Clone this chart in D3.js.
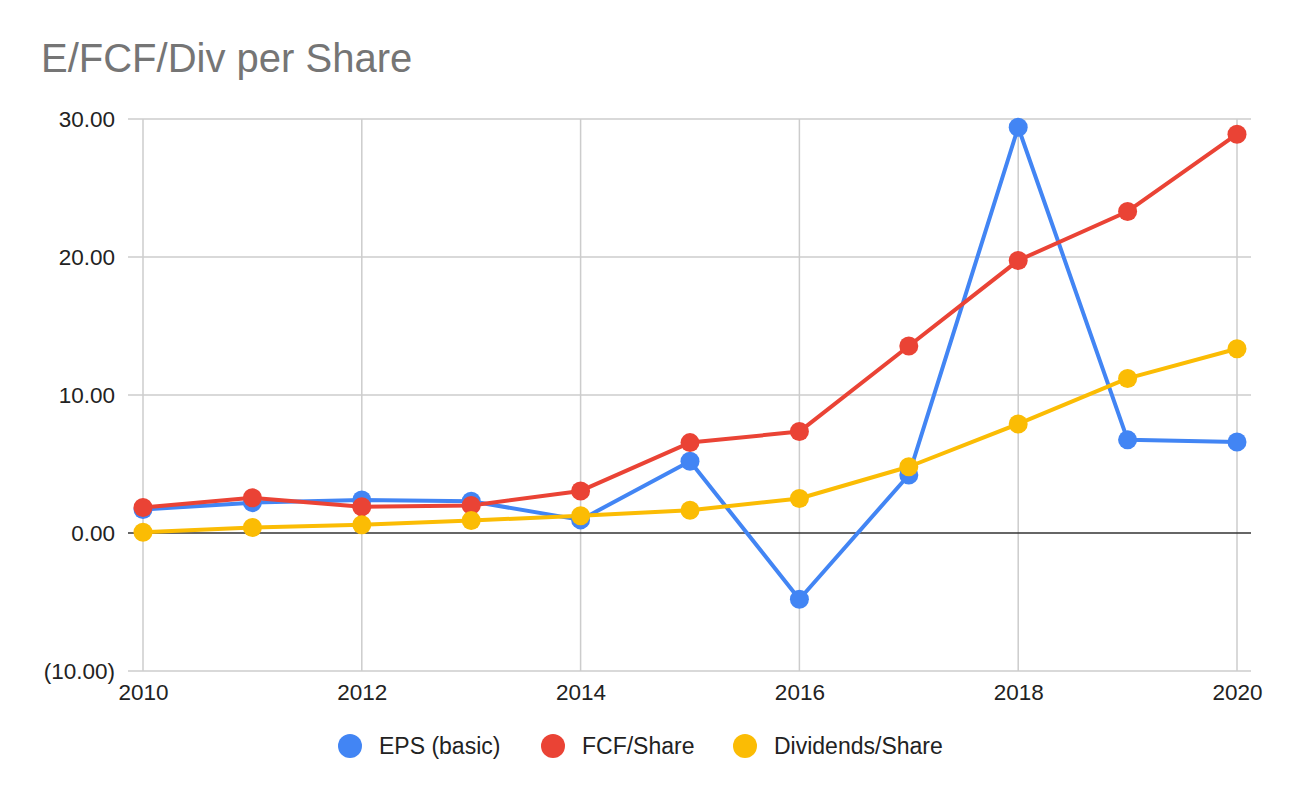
<!DOCTYPE html>
<html>
<head>
<meta charset="utf-8">
<script src="https://cdn.jsdelivr.net/npm/d3@7"></script>
<style>
  body { margin: 0; background: #fff; }
  text { font-family: Arial, "Liberation Sans", sans-serif; }
</style>
</head>
<body>
<div class="chart"></div>
<script>
// data
var years = [2010, 2011, 2012, 2013, 2014, 2015, 2016, 2017, 2018, 2019, 2020];
var eps = [1.7, 2.2, 2.4, 2.3, 0.95, 5.2, -4.8, 4.2, 29.4, 6.75, 6.6];
var fcf = [1.85, 2.55, 1.9, 2.0, 3.05, 6.55, 7.35, 13.55, 19.75, 23.3, 28.9];
var divs = [0.05, 0.4, 0.6, 0.9, 1.25, 1.65, 2.5, 4.8, 7.9, 11.2, 13.35];
var seriesNames = ["EPS (basic)", "FCF/Share", "Dividends/Share"];
var yTicks = [-10, 0, 10, 20, 30];
var xTicks = [2010, 2012, 2014, 2016, 2018, 2020];

var colors = ["#4285F4", "#EA4335", "#FBBC04"];
var seriesData = [eps, fcf, divs];

var svgWidth = 1290;
var svgHeight = 798;

var svg = d3.select(".chart").append("svg")
    .attr("width", svgWidth)
    .attr("height", svgHeight);

var xScale = d3.scaleLinear()
    .domain([2010, 2020])
    .range([143, 1237]);

var yScale = d3.scaleLinear()
    .domain([-10, 30])
    .range([671, 119]);

function fmt(v) {
    var s = d3.format(",.2f")(Math.abs(v));
    return v < 0 ? "(" + s + ")" : s;
}

// title
svg.append("text")
    .attr("x", 41)
    .attr("y", 72)
    .attr("fill", "#757575")
    .style("font-size", "40px")
    .text("E/FCF/Div per Share");

// horizontal gridlines
svg.append("g").selectAll("line")
    .data(yTicks.filter(d => d != 0))
    .enter().append("line")
    .attr("x1", 128).attr("x2", 1251)
    .attr("y1", d => yScale(d)).attr("y2", d => yScale(d))
    .attr("stroke", "#cccccc")
    .attr("stroke-width", 1.5);

// vertical gridlines
svg.append("g").selectAll("line")
    .data(xTicks)
    .enter().append("line")
    .attr("x1", d => xScale(d)).attr("x2", d => xScale(d))
    .attr("y1", yScale(30)).attr("y2", yScale(-10))
    .attr("stroke", "#cccccc")
    .attr("stroke-width", 1.5);

// zero line
svg.append("line")
    .attr("x1", 128).attr("x2", 1251)
    .attr("y1", yScale(0)).attr("y2", yScale(0))
    .attr("stroke", "#333333")
    .attr("stroke-width", 1.5);

// y axis labels
var yAxis = d3.axisLeft(yScale).tickValues(yTicks).tickFormat(fmt).tickSize(0).tickPadding(13);
var yG = svg.append("g")
    .attr("transform", "translate(128,0)")
    .call(yAxis);
yG.select(".domain").remove();
yG.selectAll("text")
    .attr("fill", "#222")
    .style("font-size", "22.5px")
    .style("font-family", "Arial, 'Liberation Sans', sans-serif");

// x axis labels
var xAxis = d3.axisBottom(xScale).tickValues(xTicks).tickFormat(d3.format("d")).tickSize(0).tickPadding(0);
var xG = svg.append("g")
    .attr("transform", "translate(0,684)")
    .call(xAxis);
xG.select(".domain").remove();
xG.selectAll("text")
    .attr("fill", "#222")
    .style("font-size", "22.5px")
    .style("font-family", "Arial, 'Liberation Sans', sans-serif");

// lines and points
var line = d3.line()
    .x((d, i) => xScale(years[i]))
    .y(d => yScale(d));

seriesData.forEach(function(vals, k) {
    svg.append("path")
        .datum(vals)
        .attr("d", line)
        .attr("fill", "none")
        .attr("stroke", colors[k])
        .attr("stroke-width", 4)
        .attr("stroke-linejoin", "round");
});

seriesData.forEach(function(vals, k) {
    svg.append("g").selectAll("circle")
        .data(vals)
        .enter().append("circle")
        .attr("cx", (d, i) => xScale(years[i]))
        .attr("cy", d => yScale(d))
        .attr("r", 9.5)
        .attr("fill", colors[k]);
});

// legend
var legendX = [350, 553, 745];
var legend = svg.append("g").selectAll("g")
    .data(seriesNames)
    .enter().append("g")
    .attr("transform", (d, i) => `translate(${legendX[i]}, 746)`);
legend.append("circle")
    .attr("r", 12)
    .attr("fill", (d, i) => colors[i]);
legend.append("text")
    .attr("x", 29)
    .attr("dy", "0.36em")
    .attr("fill", "#222")
    .style("font-size", "23px")
    .text(d => d);
</script>
</body>
</html>
